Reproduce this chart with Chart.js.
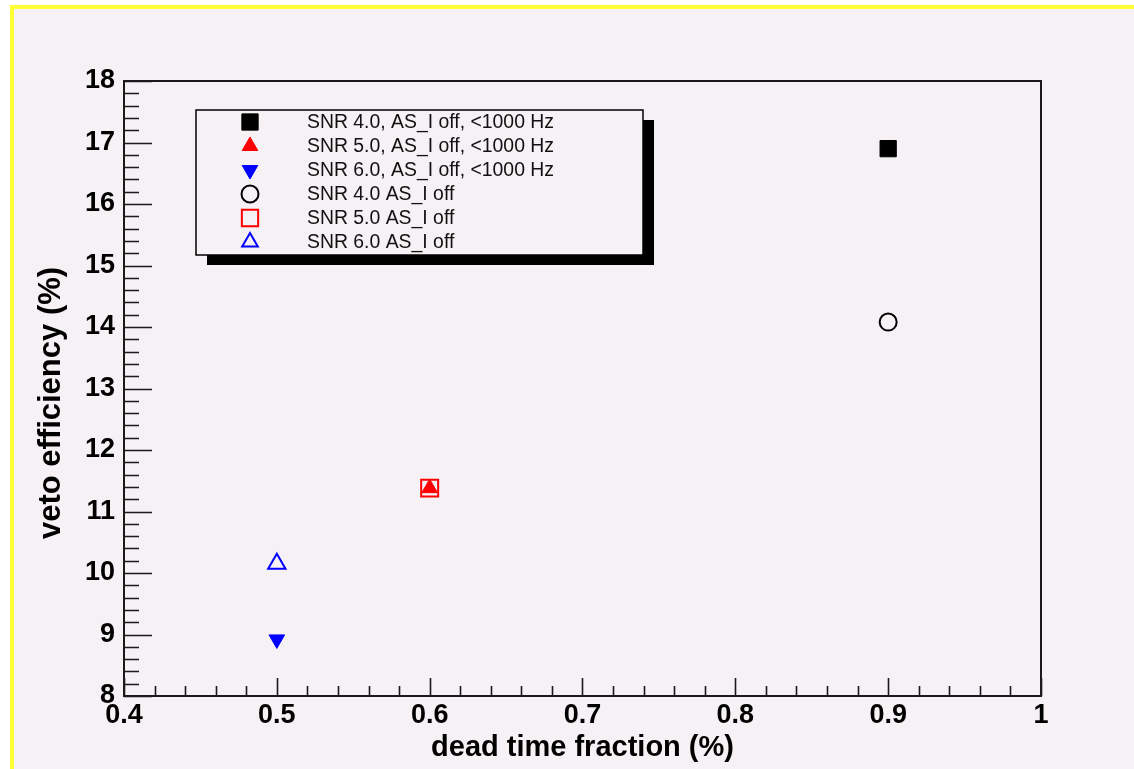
<!DOCTYPE html>
<html lang="en">
<head>
    <meta charset="UTF-8">
    <title>Veto efficiency vs dead time fraction</title>
    <script src="https://cdn.jsdelivr.net/npm/chart.js"></script>
    <style>
        html, body { margin: 0; width: 1134px; height: 769px; overflow: hidden; background: #fff; }
        .pad {
            position: absolute; left: 10px; top: 5px; right: 0; bottom: 0;
            background: #f5f1f5;
            border-top: 4px solid #ffff33;
            border-left: 4px solid #ffff33;
        }
        #vetoChart { position: absolute; left: 0; top: 0; }
    </style>
</head>
<body>

<div class="pad"></div>
<canvas id="vetoChart" width="1134" height="769"></canvas>

<script>
// series (one point each)
const seriesNames = [
    'SNR 4.0, AS_I off, <1000 Hz',
    'SNR 5.0, AS_I off, <1000 Hz',
    'SNR 6.0, AS_I off, <1000 Hz',
    'SNR 4.0 AS_I off',
    'SNR 5.0 AS_I off',
    'SNR 6.0 AS_I off'
];
const deadTime = [[0.9], [0.6], [0.5], [0.9], [0.6], [0.5]];
const vetoEff  = [[16.9], [11.38], [8.92], [14.08], [11.38], [10.15]];

const xTicks = [0.4, 0.5, 0.6, 0.7, 0.8, 0.9, 1.0];
const yTicks = [8, 9, 10, 11, 12, 13, 14, 15, 16, 17, 18];

// marker look for each series (ROOT style markers)
const markerStyle = [
    { pointStyle: 'rect',     rotation: 0,   radius: 11.5, color: '#000000', filled: true },
    { pointStyle: 'triangle', rotation: 0,   radius: 9,    color: '#ff0000', filled: true },
    { pointStyle: 'triangle', rotation: 180, radius: 9,    color: '#0000ff', filled: true },
    { pointStyle: 'circle',   rotation: 0,   radius: 8.5,  color: '#000000', filled: false },
    { pointStyle: 'rect',     rotation: 0,   radius: 12,   color: '#ff0000', filled: false },
    { pointStyle: 'triangle', rotation: 0,   radius: 10,   color: '#0000ff', filled: false }
];

const tickFont = { family: "'Liberation Sans', Arial, Helvetica, sans-serif", size: 27, weight: 'bold' };
const titleFont = { family: "'Liberation Sans', Arial, Helvetica, sans-serif", size: 29, weight: 'bold' };

const datasets = seriesNames.map((name, i) => {
    const m = markerStyle[i];
    return {
        label: name,
        data: deadTime[i].map((x, k) => ({ x: x, y: vetoEff[i][k] })),
        pointStyle: m.pointStyle,
        rotation: m.rotation,
        pointRadius: m.radius,
        pointBorderWidth: m.filled ? 1 : 2,
        borderColor: m.color,
        backgroundColor: m.filled ? m.color : 'rgba(0,0,0,0)'
    };
});

// frame + inward ticks like a ROOT canvas, plus the shadowed legend box
const rootFrame = {
    id: 'rootFrame',
    beforeDatasetsDraw(chart) {
        const { ctx, chartArea: a, scales: { x, y } } = chart;
        ctx.save();
        ctx.strokeStyle = '#1a1a1a';
        ctx.lineWidth = 1.6;
        ctx.beginPath();
        for (let i = 0; i <= 30; i++) {
            const px = Math.round(x.getPixelForValue(0.4 + i * 0.02)) + 0.5;
            const len = i % 5 === 0 ? 18 : 10;
            ctx.moveTo(px, a.bottom);
            ctx.lineTo(px, a.bottom - len);
        }
        for (let i = 0; i <= 50; i++) {
            const py = Math.round(y.getPixelForValue(8 + i * 0.2)) + 0.5;
            const len = i % 5 === 0 ? 28 : 15;
            ctx.moveTo(a.left, py);
            ctx.lineTo(a.left + len, py);
        }
        ctx.stroke();
        ctx.lineWidth = 2;
        ctx.strokeRect(a.left, a.top, a.right - a.left, a.bottom - a.top);
        ctx.restore();
    },
    afterDraw(chart) {
        const ctx = chart.ctx;
        ctx.save();

        // y axis title (drawn by hand, ROOT puts it a little below centre)
        ctx.translate(51, 403);
        ctx.rotate(-Math.PI / 2);
        ctx.font = 'bold 31px "Liberation Sans", Arial, sans-serif';
        ctx.fillStyle = '#000';
        ctx.textAlign = 'center';
        ctx.textBaseline = 'middle';
        ctx.fillText('veto efficiency (%)', 0, 0);
        ctx.setTransform(1, 0, 0, 1, 0, 0);

        // legend box with drop shadow
        const bx = 196, by = 110, bw = 447, bh = 145;
        ctx.fillStyle = '#000';
        ctx.fillRect(bx + 11, by + 10, bw, bh);
        ctx.fillStyle = '#f5f1f5';
        ctx.fillRect(bx, by, bw, bh);
        ctx.strokeStyle = '#000';
        ctx.lineWidth = 1.5;
        ctx.strokeRect(bx, by, bw, bh);

        ctx.font = '19.4px "Liberation Sans", Arial, sans-serif';
        ctx.textAlign = 'left';
        ctx.textBaseline = 'middle';
        chart.data.datasets.forEach((ds, i) => {
            const m = markerStyle[i];
            const rowY = 122 + i * 24;
            ctx.fillStyle = ds.backgroundColor;
            ctx.strokeStyle = ds.borderColor;
            ctx.lineWidth = ds.pointBorderWidth;
            Chart.helpers.drawPoint(ctx, {
                pointStyle: m.pointStyle,
                rotation: m.rotation,
                radius: m.pointStyle === 'rect' ? 11.5 : (m.pointStyle === 'circle' ? 8.5 : 9),
                borderWidth: ds.pointBorderWidth
            }, 250, rowY);
            ctx.fillStyle = '#111';
            ctx.fillText(ds.label, 307, rowY + 1);
        });
        ctx.restore();
    }
};

const ctx = document.getElementById('vetoChart').getContext('2d');
new Chart(ctx, {
    type: 'scatter',
    data: { datasets: datasets },
    options: {
        responsive: false,
        animation: false,
        layout: { padding: { left: 0, top: 81, right: 93, bottom: 0 } },
        plugins: {
            legend: { display: false },
            tooltip: { enabled: false }
        },
        scales: {
            x: {
                type: 'linear',
                min: 0.4,
                max: 1.0,
                afterBuildTicks: s => { s.ticks = xTicks.map(v => ({ value: v })); },
                afterFit: s => { s.height = 73; },
                grid: { display: false, drawTicks: false },
                border: { display: false },
                ticks: {
                    font: tickFont,
                    color: '#000',
                    padding: 3,
                    maxRotation: 0,
                    autoSkip: false,
                    callback: v => String(+Number(v).toFixed(1))
                },
                title: {
                    display: true,
                    text: 'dead time fraction (%)',
                    font: titleFont,
                    color: '#000',
                    padding: { top: 0, bottom: 4 }
                }
            },
            y: {
                type: 'linear',
                min: 8,
                max: 18,
                afterBuildTicks: s => { s.ticks = yTicks.map(v => ({ value: v })); },
                afterFit: s => { s.width = 124; },
                grid: { display: false, drawTicks: false },
                border: { display: false },
                ticks: {
                    font: tickFont,
                    color: '#000',
                    padding: 9,
                    autoSkip: false,
                    callback: v => String(v)
                }
            }
        }
    },
    plugins: [rootFrame]
});
</script>

</body>
</html>
